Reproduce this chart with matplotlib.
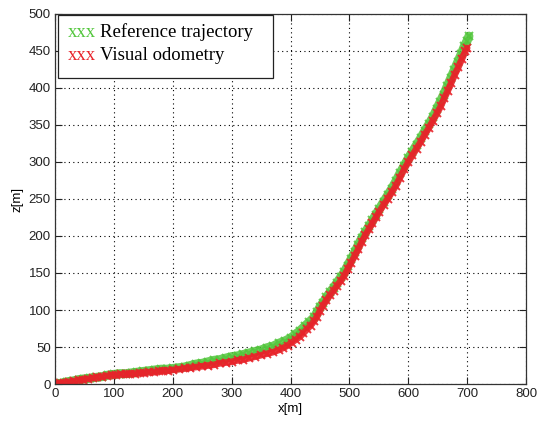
import matplotlib
matplotlib.use("Agg")
import matplotlib.pyplot as plt
from matplotlib.patches import Rectangle

# Reference trajectory (green)
ref_x = [0, 10, 20, 30, 40, 50, 60, 70, 80, 90, 100, 110, 120, 130, 140, 150, 160, 170, 180, 190,
         200, 210, 220, 230, 240, 250, 260, 270, 280, 290, 300, 310, 320, 330, 340, 350, 360, 370,
         380, 390, 400, 408, 416, 424, 432, 440, 445, 450, 455, 461, 467, 473, 479, 485, 491, 497,
         503, 509, 515, 521, 527, 533, 539, 545, 551, 558, 565, 572, 579, 586, 593, 600, 607, 614,
         621, 628, 635, 642, 648, 654, 660, 666, 672, 678, 684, 690, 695, 700, 703]
ref_z = [0, 1, 3, 4, 6, 7, 8, 9, 10, 12, 13, 14, 14, 15, 16, 17, 18, 19, 20, 20,
         21, 22, 23, 25, 27, 28, 30, 32, 33, 35, 37, 38, 40, 42, 44, 46, 49, 51,
         55, 58, 62, 67, 72, 78, 84, 90, 97, 104, 110, 117, 124, 130, 137, 144, 151, 160,
         169, 178, 188, 197, 205, 213, 221, 229, 237, 246, 255, 264, 274, 285, 295, 305, 314, 323,
         332, 342, 351, 361, 371, 381, 391, 402, 413, 424, 435, 446, 456, 464, 470]

# Visual odometry (red)
vo_x = [0, 8, 16, 24, 32, 40, 48, 56, 64, 72, 80, 88, 96, 104, 112, 120, 128, 136, 144, 152,
        160, 168, 176, 184, 192, 200, 210, 220, 230, 240, 250, 260, 270, 280, 290, 300, 310, 320,
        330, 340, 350, 360, 370, 380, 388, 395, 402, 409, 416, 422, 428, 434, 440, 445, 450, 455,
        461, 467, 473, 479, 485, 491, 497, 503, 509, 515, 521, 527, 533, 539, 545, 551, 558, 565,
        572, 579, 586, 593, 600, 607, 614, 621, 628, 635, 642, 649, 655, 661, 667, 673, 679, 685,
        691, 697, 700]
vo_z = [0, 1, 2, 3, 4, 5, 6, 7, 8, 9, 10, 11, 12, 12, 13, 13, 14, 14, 15, 15,
        16, 16, 17, 18, 18, 19, 20, 21, 22, 23, 24, 25, 26, 28, 29, 30, 32, 33,
        35, 37, 39, 41, 43, 46, 49, 52, 56, 60, 64, 69, 74, 79, 85, 91, 99, 106,
        113, 120, 126, 133, 139, 146, 155, 164, 173, 182, 192, 201, 209, 217, 225, 233, 242, 250,
        259, 268, 279, 290, 300, 309, 318, 327, 337, 346, 356, 366, 375, 386, 396, 407, 418, 428,
        439, 450, 454]

x_ticks = [0, 100, 200, 300, 400, 500, 600, 700, 800]
z_ticks = [0, 50, 100, 150, 200, 250, 300, 350, 400, 450, 500]
legend_labels = ["Reference trajectory", "Visual odometry"]

GREEN = "#52c63c"
RED = "#e8232a"

fig = plt.figure(figsize=(5.39, 4.22), dpi=100)
ax = fig.add_axes([0.102, 0.090, 0.874, 0.877])

ax.plot(ref_x, ref_z, linestyle="-", linewidth=6.5, color=GREEN, alpha=0.85,
        solid_capstyle="round", marker="x", markersize=6, mew=1.4)
ax.plot(vo_x, vo_z, linestyle="-", linewidth=4.8, color=RED, alpha=0.9,
        solid_capstyle="round", marker="x", markersize=5.5, mew=1.4)

ax.set_xlim(0, 800)
ax.set_ylim(0, 500)
ax.set_xticks(x_ticks)
ax.set_yticks(z_ticks)
ax.grid(True, linestyle=(0, (1, 3)), color="black", linewidth=0.8)
ax.tick_params(direction="in", length=5, width=0.8, top=True, right=True,
               labelsize=9.5, colors="#222222", pad=3)
for lab in ax.get_xticklabels() + ax.get_yticklabels():
    lab.set_family("Liberation Sans")
for s in ax.spines.values():
    s.set_linewidth(0.9)
    s.set_color("#333333")

ax.set_xlabel("x[m]", fontsize=9.5, family="Liberation Sans", labelpad=2)
ax.set_ylabel("z[m]", fontsize=9.5, family="Liberation Sans", labelpad=4)

# Legend box
ax.add_patch(Rectangle((0.0064, 0.827), 0.4564, 0.17, transform=ax.transAxes,
                       facecolor="white", edgecolor="#222222", linewidth=0.9, zorder=5))
rows = [(0.951, GREEN, legend_labels[0]), (0.889, RED, legend_labels[1])]
for y, c, lab in rows:
    ax.text(0.0276, y, "xxx", color=c, fontsize=13.5, family="Liberation Serif",
            transform=ax.transAxes, va="center", ha="left", zorder=6)
    ax.text(0.0955, y, lab, color="black", fontsize=13.5, family="Liberation Serif",
            transform=ax.transAxes, va="center", ha="left", zorder=6)

fig.savefig("out.png", dpi=100)
